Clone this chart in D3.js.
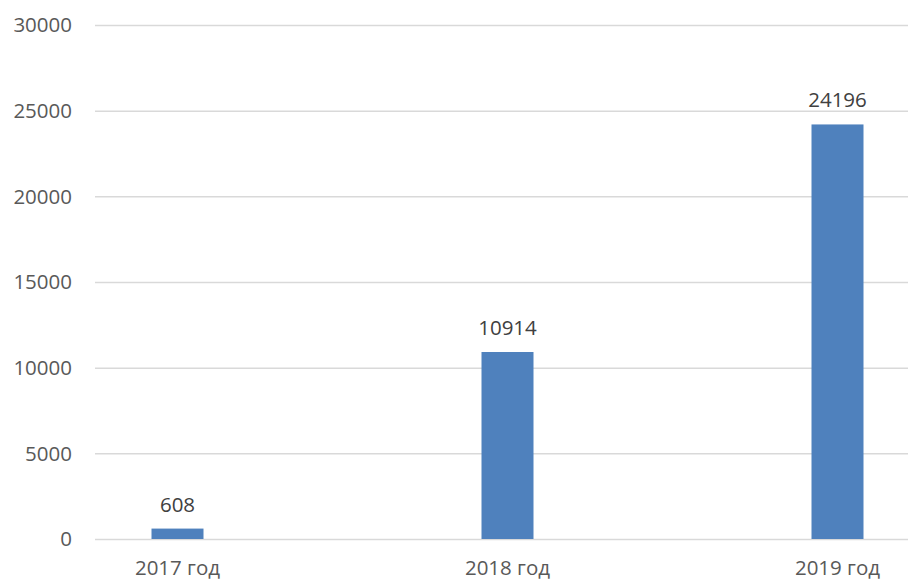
<!DOCTYPE html>
<html>
<head>
<meta charset="utf-8">
<script src="https://cdn.jsdelivr.net/npm/d3@7"></script>
<style>
  body { margin: 0; background: #fff; }
  text { font-family: "Open Sans", "Noto Sans", sans-serif; }
</style>
</head>
<body>
<div id="chart"></div>
<script>
var years = ["2017 год", "2018 год", "2019 год"];
var counts = [608, 10914, 24196];
var yTicks = [0, 5000, 10000, 15000, 20000, 25000, 30000];

var width = 908;
var height = 581;

var svg = d3.select("#chart")
    .append("svg")
    .attr("width", width)
    .attr("height", height);

// y scale: 0 sits at 539, 30000 at 25
var y = d3.scaleLinear()
    .domain([0, 30000])
    .range([539, 25]);

// bands 330 wide, centres at 177.5 / 507.5 / 837.5
var x = d3.scaleBand()
    .domain(years)
    .range([12.5, 1002.5]);

var barWidth = 52;

// gridlines
svg.selectAll("line.grid")
    .data(yTicks)
    .enter()
    .append("line")
    .attr("class", "grid")
    .attr("x1", 95)
    .attr("x2", width)
    .attr("y1", function(d) { return y(d) + 0.5; })
    .attr("y2", function(d) { return y(d) + 0.5; })
    .attr("stroke", "#d9d9d9")
    .attr("stroke-width", 1.5);

// y tick labels
svg.selectAll("text.ytick")
    .data(yTicks)
    .enter()
    .append("text")
    .attr("class", "ytick")
    .attr("x", 72)
    .attr("y", function(d) { return y(d); })
    .attr("dy", "0.36em")
    .attr("text-anchor", "end")
    .attr("font-size", 20.5)
    .attr("fill", "#595959")
    .text(function(d) { return d; });

// bars
svg.selectAll("rect.bar")
    .data(counts)
    .enter()
    .append("rect")
    .attr("class", "bar")
    .attr("x", function(d, i) { return x(years[i]) + x.bandwidth() / 2 - barWidth / 2; })
    .attr("y", function(d) { return y(d); })
    .attr("width", barWidth)
    .attr("height", function(d) { return y(0) - y(d); })
    .attr("fill", "#4f81bd");

// value labels
svg.selectAll("text.val")
    .data(counts)
    .enter()
    .append("text")
    .attr("class", "val")
    .attr("x", function(d, i) { return x(years[i]) + x.bandwidth() / 2; })
    .attr("y", function(d) { return y(d) - 17; })
    .attr("text-anchor", "middle")
    .attr("font-size", 20.5)
    .attr("fill", "#404040")
    .text(function(d) { return d; });

// category labels
svg.selectAll("text.cat")
    .data(years)
    .enter()
    .append("text")
    .attr("class", "cat")
    .attr("x", function(d) { return x(d) + x.bandwidth() / 2; })
    .attr("y", 575)
    .attr("text-anchor", "middle")
    .attr("font-size", 20.5)
    .attr("fill", "#595959")
    .text(function(d) { return d; });
</script>
</body>
</html>
